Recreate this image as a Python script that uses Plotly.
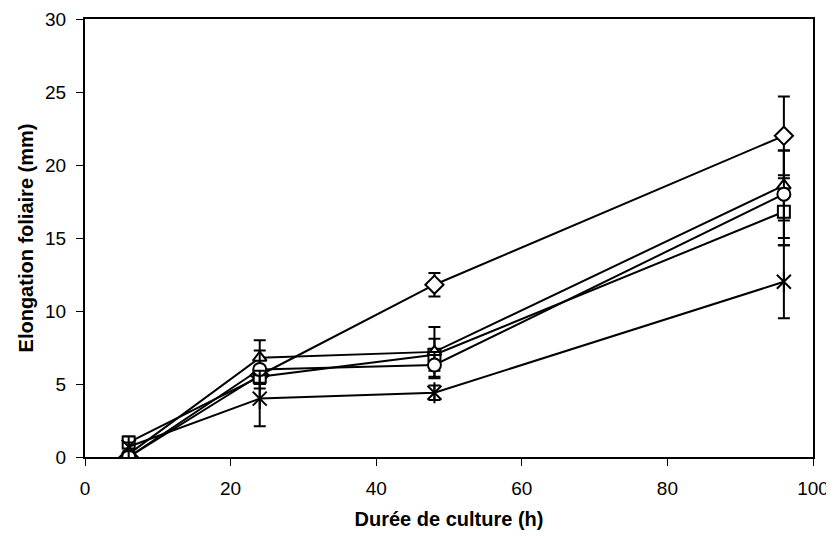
import plotly.graph_objects as go

hours = [6, 24, 48, 96]

diamond = [0.0, 5.6, 11.8, 22.0]
diamond_err = [0.2, 0.6, 0.8, 2.7]

square = [1.0, 5.5, 7.0, 16.8]
square_err = [0.4, 0.5, 1.1, 2.3]

triangle = [0.2, 6.8, 7.2, 18.6]
triangle_err = [0.2, 1.2, 1.7, 2.4]

circle = [0.0, 6.0, 6.3, 18.0]
circle_err = [0.2, 1.3, 0.9, 3.0]

star = [0.7, 4.0, 4.4, 12.0]
star_err = [0.3, 1.9, 0.5, 2.5]

x_ticks = [0, 20, 40, 60, 80, 100]
y_ticks = [0, 5, 10, 15, 20, 25, 30]

FONT = "Liberation Sans, Arial"

fig = go.Figure()

def add_series(name, y, err, symbol, size=13, fill="white"):
    fig.add_trace(go.Scatter(
        x=hours, y=y, name=name, mode="lines+markers",
        line=dict(color="black", width=2),
        marker=dict(symbol=symbol, size=size, color=fill,
                    line=dict(color="black", width=2)),
        error_y=dict(type="data", array=err, visible=True,
                     color="black", thickness=2, width=6),
        showlegend=False,
    ))

add_series("diamond", diamond, diamond_err, "diamond", 14)
add_series("square", square, square_err, "square", 12)
add_series("triangle", triangle, triangle_err, "triangle-up", 12)
add_series("circle", circle, circle_err, "circle", 13)
add_series("star", star, star_err, "x-thin-open", 14, fill="black")
fig.add_trace(go.Scatter(
    x=hours, y=star, mode="markers", showlegend=False,
    marker=dict(symbol="line-ns-open", size=15, color="black",
                line=dict(color="black", width=2)),
))

axis_common = dict(
    showline=True, linecolor="black", linewidth=2, mirror=True,
    ticks="outside", ticklen=7, tickcolor="black", tickwidth=1,
    showgrid=False, zeroline=False, automargin=False,
    tickfont=dict(family=FONT, size=19, color="black"),
)

fig.update_xaxes(range=[0, 100], tickvals=x_ticks, ticklabelstandoff=6,
                 title=dict(text="<b>Durée de culture (h)</b>",
                            font=dict(family=FONT, size=20, color="black"),
                            standoff=14),
                 **axis_common)
fig.update_yaxes(range=[0, 30], tickvals=y_ticks, ticklabelstandoff=6,
                 title=dict(text="<b>Elongation foliaire (mm)</b>",
                            font=dict(family=FONT, size=20, color="black"),
                            standoff=6),
                 **axis_common)

# the page body adds an 8px offset, so the figure is sized to fit the window
fig.update_layout(
    width=826, height=530,
    margin=dict(l=77, r=21, t=11, b=81),
    plot_bgcolor="white", paper_bgcolor="white",
)

fig.write_html("out.html")
